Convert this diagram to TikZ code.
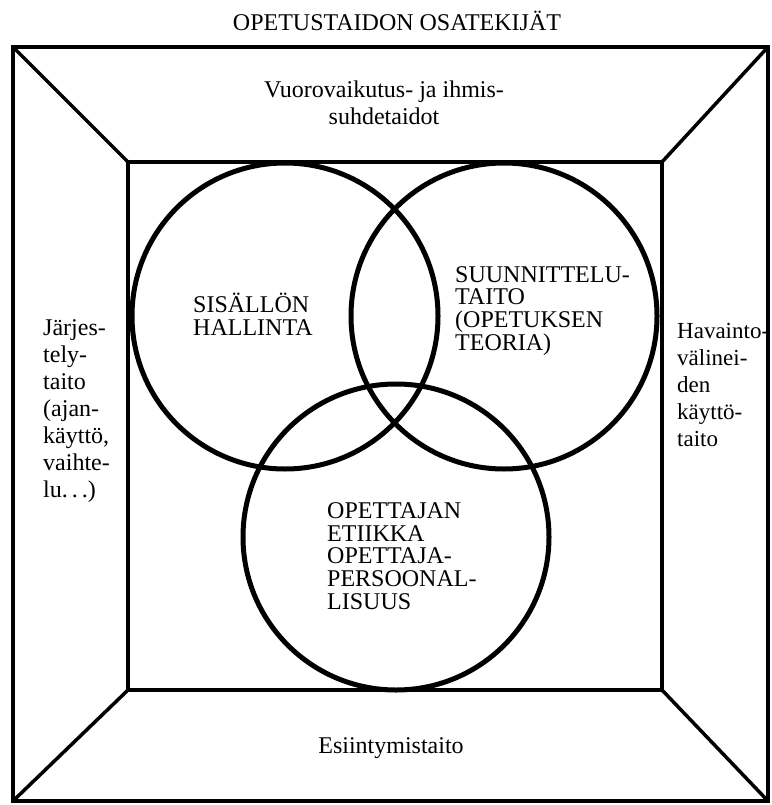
\documentclass[tikz,border=0pt]{standalone}
\usepackage{fontspec}
\setmainfont{Liberation Serif}
\usetikzlibrary{calc,positioning}

\tikzset{
    frame/.style={line width=3.5pt, line join=miter},
    ring/.style={line width=5pt},
    sidetext/.style={font=\fontsize{24}{27}\selectfont, align=left, inner sep=0pt, anchor=west},
    captext/.style={font=\fontsize{24}{22.8}\selectfont, align=left, inner sep=0pt, anchor=west},
}

\begin{document}
\begin{tikzpicture}[x=1pt,y=-1pt]
    \useasboundingbox (0,0) rectangle (771,805);
    % Corners of the outer and inner boxes
    \coordinate (o1) at (13,47);
    \coordinate (o2) at (768,47);
    \coordinate (o3) at (768,801);
    \coordinate (o4) at (13,801);
    \coordinate (i1) at (128,162);
    \coordinate (i2) at (662,162);
    \coordinate (i3) at (662,690);
    \coordinate (i4) at (128,690);
    % Draw the two boxes and the corner lines
    \draw[frame] (o1) -- (o2) -- (o3) -- (o4) -- cycle;
    \draw[frame] (i1) -- (i2) -- (i3) -- (i4) -- cycle;
    \foreach \i in {1,...,4} {
        \draw[frame] (o\i) -- (i\i);
    }
    % Draw the three circles
    \coordinate (csis) at (285,316);
    \coordinate (csuu) at (504,316);
    \coordinate (cope) at (396,537);
    \foreach \c in {csis,csuu,cope} {
        \draw[ring] (\c) circle (153pt);
    }
    % Title and labels
    \node[font=\fontsize{24}{27}\selectfont, inner sep=0pt] (title) at (397,21) {OPETUSTAIDON OSATEKIJÄT};
    \node[sidetext, align=center, anchor=center] (vuoro) at (384,103) {Vuorovaikutus- ja ihmis-\\suhdetaidot};
    \node[sidetext, anchor=center] (esiin) at (391,748) {Esiintymistaito};
    \node[sidetext] (jarj) at (43,411) {Järjes-\\tely-\\taito\\(ajan-\\käyttö,\\vaihte-\\lu.\,.\,.)};
    \node[sidetext, font=\fontsize{23}{27}\selectfont] (hava) at (677,385) {Havainto-\\välinei-\\den\\käyttö-\\taito};
    \node[captext] (sis) at (193,314) {SISÄLLÖN\\HALLINTA};
    \node[captext] (suu) at (455,311) {SUUNNITTELU-\\TAITO\\(OPETUKSEN\\TEORIA)};
    \node[captext] (ope) at (327,556) {OPETTAJAN\\ETIIKKA\\OPETTAJA-\\PERSOONAL-\\LISUUS};
\end{tikzpicture}
\end{document}
